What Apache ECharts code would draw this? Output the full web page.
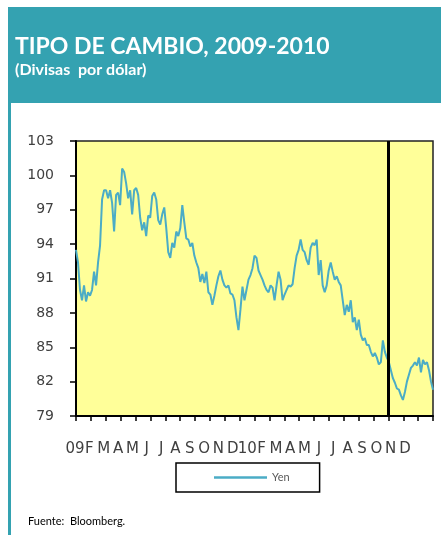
<!DOCTYPE html>
<html><head><meta charset="utf-8">
<script src="https://cdn.jsdelivr.net/npm/echarts@6/dist/echarts.min.js"></script>
<style>html,body{margin:0;padding:0;background:#fff}#c{width:441px;height:535px}</style>
</head><body><div id="c"></div>
<script>
const monthLabels = ['09','F','M','A','M','J','J','A','S','O','N','D','10','F','M','A','M','J','J','A','S','O','N','D'];
const yenValues = [
93.5,92.4,90.0,89.1,90.4,89.0,89.8,89.5,90.0,91.6,90.4,92.4,93.9,97.9,98.7,98.7,98.0,98.7,97.6,95.1,
98.3,98.5,97.4,100.6,100.3,99.3,98.0,98.7,96.6,98.7,98.9,98.3,96.3,95.2,95.9,94.7,96.5,96.3,98.2,98.5,
97.9,96.1,95.7,96.6,97.2,95.4,93.3,92.8,94.1,93.7,95.1,94.7,95.4,97.4,95.9,94.5,94.4,93.8,94.1,93.0,
92.4,91.9,90.7,91.4,90.6,91.6,89.8,89.6,88.7,89.5,90.4,91.2,91.7,90.9,90.4,90.2,90.4,89.7,89.6,89.1,
87.6,86.5,88.3,90.3,89.1,90.0,90.9,91.3,91.9,93.0,92.8,91.7,91.3,90.9,90.4,90.0,89.8,90.4,90.2,89.1,
90.4,91.6,90.9,89.1,89.6,90.0,90.4,90.3,90.5,91.9,93.0,93.5,94.4,93.5,93.3,92.6,92.2,93.7,94.1,93.9,
94.4,91.3,92.6,90.4,89.8,90.4,91.7,92.4,91.6,90.9,91.2,90.7,90.4,89.1,87.8,88.7,88.1,89.1,87.2,87.6,
86.5,87.4,86.1,85.6,85.8,85.2,85.2,84.6,84.2,84.5,84.1,83.5,83.7,85.6,84.6,84.1,83.7,83.0,82.3,81.9,
81.4,81.3,80.8,80.4,81.1,82.0,82.6,83.2,83.4,83.7,83.4,84.1,82.8,83.9,83.5,83.7,83.0,82.0,81.3
];
const yMin = 79, yMax = 103, yStep = 3;
const monthCount = 24;
const markerMonth = 21;

const chart = echarts.init(document.getElementById('c'), null, {renderer:'canvas'});
const pts = yenValues.map((v,i)=>[i*monthCount/(yenValues.length-1), +(v - yMin).toFixed(2)]);
const teal = '#34a2b1';
chart.setOption({
  animation:false,
  backgroundColor:'#fff',
  graphic:[
    {type:'rect', shape:{x:8,y:7,width:433,height:96}, style:{fill:teal}, z:0},
    {type:'rect', shape:{x:8,y:103,width:3,height:432}, style:{fill:teal}, z:0},
    {type:'text', left:15, top:35, style:{text:'TIPO DE CAMBIO, 2009-2010', fill:'#fff', font:'bold 23px Lato'}},
    {type:'text', left:15, top:62, style:{text:'(Divisas  por dólar)', fill:'#fff', font:'bold 16px Lato'}},
    {type:'text', left:28, top:516, style:{text:'Fuente:  Bloomberg.', fill:'#000', font:'11px Lato'}}
  ],
  legend:{
    left:176, top:463, itemWidth:53, itemHeight:2.5, itemGap:0, icon:'rect',
    padding:[8,30,8,38], borderColor:'#000', borderWidth:1.5, backgroundColor:'#fff',
    textStyle:{color:'#595959', fontFamily:'Lato', fontSize:11, lineHeight:13},
    data:['Yen']
  },
  grid:[
    {left:76, right:8, top:141, bottom:119, show:true, backgroundColor:'#FFFF99', borderColor:'#222', borderWidth:1.5},
    {left:75, right:36, top:141, bottom:119, show:false}
  ],
  xAxis:[
    {type:'value', gridIndex:0, min:0, max:monthCount, interval:1,
     axisLine:{show:true, onZero:false, lineStyle:{color:'#000', width:2}},
     axisTick:{show:true, inside:false, length:5, lineStyle:{color:'#000', width:1.5}},
     axisLabel:{show:false}, splitLine:{show:false}},
    {type:'category', gridIndex:1, data:monthLabels, boundaryGap:false, position:'bottom',
     axisLine:{show:false}, axisTick:{show:false}, splitLine:{show:false},
     axisLabel:{interval:0, margin:26, color:'#404040', fontFamily:'DejaVu Sans', fontSize:15}}
  ],
  yAxis:[
    {type:'value', gridIndex:0, min:0, max:yMax-yMin, interval:yStep,
     axisLine:{show:true, lineStyle:{color:'#000', width:2}},
     axisTick:{show:true, inside:false, length:6, lineStyle:{color:'#000', width:1.5}},
     axisLabel:{margin:22, color:'#404040', fontFamily:'DejaVu Sans', fontSize:14, formatter:v=>String(v+yMin)},
     splitLine:{show:false}},
    {type:'value', gridIndex:1, min:0, max:1, show:false}
  ],
  series:[{
    name:'Yen', type:'line', xAxisIndex:0, yAxisIndex:0, data:pts,
    symbol:'none', showSymbol:false,
    lineStyle:{color:'#4bacc6', width:2}, itemStyle:{color:'#4bacc6'},
    markLine:{silent:true, symbol:['none','none'], label:{show:false},
      lineStyle:{color:'#000', width:3, type:'solid'}, data:[{xAxis:markerMonth}]}
  }]
});
</script></body></html>
